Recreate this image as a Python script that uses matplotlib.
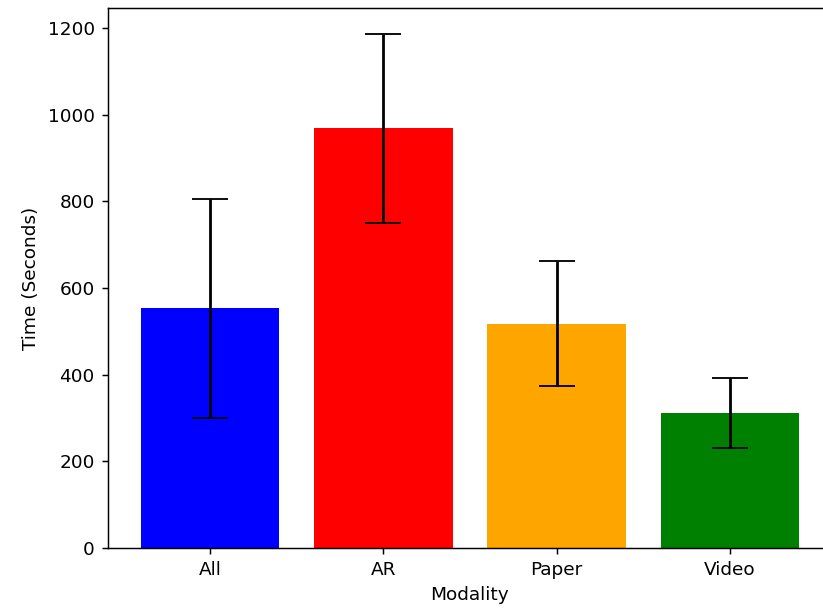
import matplotlib
matplotlib.use("Agg")
import matplotlib.pyplot as plt

categories = ["All", "AR", "Paper", "Video"]
means = [553, 969, 518, 311]
errors = [252, 218, 145, 81]
colors = ["blue", "red", "orange", "green"]

dpi = 133
fig = plt.figure(figsize=(823 / dpi, 612 / dpi), dpi=dpi)
ax = fig.add_axes([107.7 / 823, 64 / 612, 724.5 / 823, 540 / 612])
ax.bar(categories, means, yerr=errors, color=colors, capsize=10)
ax.set_xlabel("Modality")
ax.set_ylabel("Time (Seconds)")
fig.savefig("out.png", dpi=dpi)
